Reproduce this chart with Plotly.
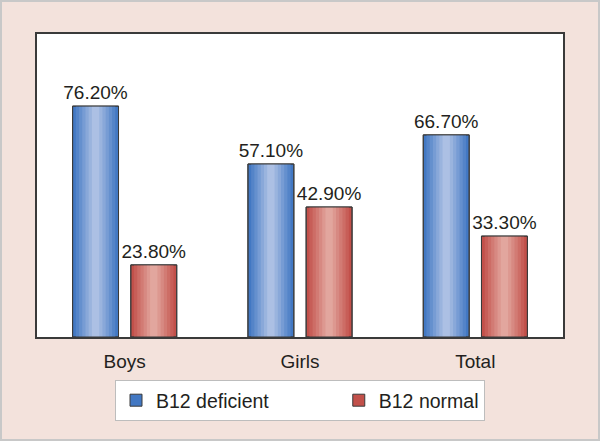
import plotly.graph_objects as go

categories = ["Boys", "Girls", "Total"]
b12_deficient = [76.2, 57.1, 66.7]
b12_normal = [23.8, 42.9, 33.3]

series = [
    ("B12 deficient", b12_deficient, (66, 120, 195), (172, 192, 228), -0.297),
    ("B12 normal", b12_normal, (194, 80, 74), (226, 166, 158), 0.035),
]
BAR_W = 0.262
FONT = "Liberation Sans, Arial, sans-serif"
TXT = "#231f20"

def mix(a, b, t):
    return "rgb(%d,%d,%d)" % tuple(round(a[k] + (b[k] - a[k]) * t) for k in range(3))

fig = go.Figure()
fracs = [1.0, 0.86, 0.72, 0.58, 0.44, 0.30, 0.16]
for idx, (name, vals, edge, center, off) in enumerate(series):
    legend_name = name + ("\u00a0" * 12 if idx == 0 else "")
    for j, f in enumerate(fracs):
        t = j / (len(fracs) - 1)
        fig.add_trace(go.Bar(
            x=categories, y=vals, name=legend_name,
            width=BAR_W * f, offset=off + BAR_W * (1 - f) / 2,
            marker=dict(color=mix(edge, center, t),
                        line=dict(color="#3a3a3a", width=1 if j == 0 else 0)),
            showlegend=(j == 0), hoverinfo="skip",
        ))
    fig.add_trace(go.Bar(
        x=categories, y=vals, name=name, width=BAR_W, offset=off,
        marker=dict(color="rgba(0,0,0,0)", line=dict(color="#3a3a3a", width=1)),
        text=[f"{v:.2f}%" for v in vals], textposition="outside",
        constraintext="none",
        textfont=dict(size=19, color=TXT, family=FONT),
        cliponaxis=False, showlegend=False,
    ))

W, H = 600, 441
ml, mr, mt, mb = 37, 37, 34, 104
pw, ph = W - ml - mr, H - mt - mb

fig.update_layout(
    width=W, height=H, barmode="overlay",
    margin=dict(l=ml, r=mr, t=mt, b=mb, pad=0),
    paper_bgcolor="#f3e2dc", plot_bgcolor="white",
    font=dict(family=FONT, size=19, color=TXT),
    xaxis=dict(showline=True, mirror=True, linecolor="#3a3a3a", linewidth=1.5,
               ticks="", showgrid=False, tickfont=dict(size=19, color=TXT),
               ticklabelstandoff=6),
    yaxis=dict(range=[0, 100], showline=True, mirror=True, linecolor="#3a3a3a",
               linewidth=1.5, showticklabels=False, ticks="", showgrid=False,
               zeroline=False),
    legend=dict(orientation="h", x=0.5, xanchor="center", y=-0.142, yanchor="top",
                bgcolor="white", bordercolor="#bdbdbd", borderwidth=1,
                font=dict(size=19.5, color=TXT), traceorder="normal",
                itemwidth=30),
    shapes=[dict(type="rect", xref="paper", yref="paper",
                 x0=-(ml - 1) / pw, x1=1 + (mr - 1) / pw,
                 y0=-(mb - 1) / ph, y1=1 + (mt - 1) / ph,
                 line=dict(color="#c8c8c8", width=2), layer="below")],
)

fig.write_html("out.html", config={"displayModeBar": False},
               post_script="document.body.style.margin='0';document.body.style.overflow='hidden';")
